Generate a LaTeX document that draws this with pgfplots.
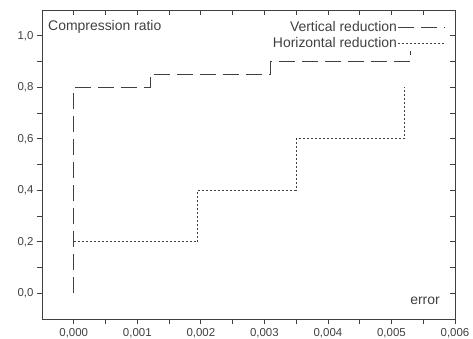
\documentclass[border=0pt]{standalone}
\usepackage{fontspec}
\setmainfont{Liberation Sans}
\usepackage{pgfplots}
\pgfplotsset{compat=1.18}
\definecolor{ink}{gray}{0.25}
\begin{document}
\begin{tikzpicture}
\pgfplotsset{
  common/.style={
    scale only axis, width=413bp, height=309bp,
    xmin=-0.0005, xmax=0.006, ymin=-0.1, ymax=1.1,
    xtick={0,0.001,...,0.006}, ytick={0,0.2,...,1.0},
    minor x tick num=1, minor y tick num=1,
    major tick length=5bp, minor tick length=5bp,
    axis line style={ink, line width=0.8bp},
    every tick/.style={ink, line width=0.8bp},
    every minor tick/.style={ink, line width=0.8bp},
    scaled x ticks=false, scaled y ticks=false,
  }
}
\begin{axis}[common,
  tick align=outside, xtick pos=bottom, ytick pos=left,
  /pgf/number format/assume math mode=true,
  xticklabel style={/pgf/number format/.cd, use comma, fixed, fixed zerofill, precision=3},
  yticklabel style={/pgf/number format/.cd, use comma, fixed, fixed zerofill, precision=1},
  tick label style={font=\fontsize{11.5}{13}\selectfont, text=ink},
  xticklabel shift=1bp, yticklabel shift=0bp,
  legend plot pos=right, legend cell align=right,
  legend image code/.code={\draw[#1] (0bp,0bp) -- (47bp,0bp);},
  legend style={draw=none, fill=none, at={(rel axis cs:1,1)}, anchor=north east,
    xshift=-9bp, yshift=-9bp, inner sep=0pt,
    font=\fontsize{14}{16}\selectfont, text=ink,
    nodes={inner sep=1bp, text height=11bp, text depth=3bp}},
]
\addplot[ink, line width=0.8bp, dash pattern=on 16bp off 7bp] coordinates {
  (0,0) (0,0.8) (0.0012,0.8) (0.0012,0.85) (0.0031,0.85) (0.0031,0.9) (0.0053,0.9) (0.0053,0.94)};
\addlegendentry{Vertical reduction}
\addplot[ink, line width=0.8bp, dash pattern=on 2bp off 2bp] coordinates {
  (0,0.2) (0.00195,0.2) (0.00195,0.4) (0.0035,0.4) (0.0035,0.6) (0.0052,0.6) (0.0052,0.8)};
\addlegendentry{Horizontal reduction}
\node[anchor=north west, inner sep=0pt, text=ink, font=\fontsize{14}{16}\selectfont]
  at ([xshift=6bp,yshift=-10bp]rel axis cs:0,1) {Compression ratio};
\node[anchor=south east, inner sep=0pt, text=ink, font=\fontsize{14}{16}\selectfont]
  at ([xshift=-15bp,yshift=14bp]rel axis cs:1,0) {error};
\end{axis}
\begin{axis}[common,
  tick align=inside, xtick pos=top, ytick pos=right,
  xticklabels={}, yticklabels={},
]
\end{axis}
\pgfresetboundingbox
\path (-42bp,-20bp) rectangle (431bp,319bp);
\end{tikzpicture}
\end{document}
